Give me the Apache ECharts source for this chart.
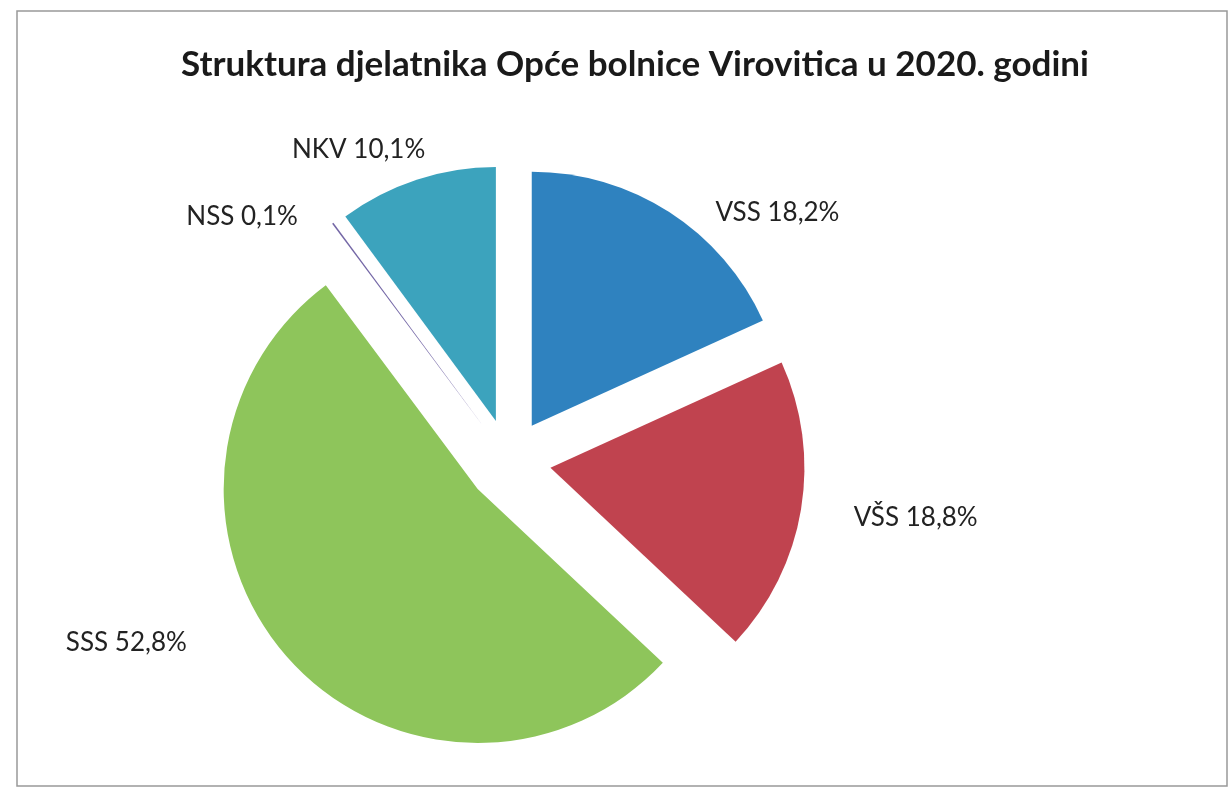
<!DOCTYPE html>
<html>
<head>
<meta charset="utf-8">
<script src="https://cdn.jsdelivr.net/npm/echarts@6/dist/echarts.min.js"></script>
<style>
  html, body { margin: 0; padding: 0; background: #fff; }
  #chart { width: 1232px; height: 795px; }
</style>
</head>
<body>
<div id="chart"></div>
<script>
// Categories and shares (percent), clockwise from 12 o'clock
const categories = ['VSS', 'VŠS', 'SSS', 'NSS', 'NKV'];
const shares = [18.2, 18.8, 52.8, 0.1, 10.1];
const colors = ['#2f82bf', '#c0434f', '#8ec55b', '#7467a6', '#3ca3bd'];
// label nudges (px) so the text sits where the original put it
const labelShift = [[15, 26], [8, 4], [-64, -36], [-2, 18], [33, -2]];

const chart = echarts.init(document.getElementById('chart'));

const pieData = categories.map((name, i) => ({
  name: name,
  value: shares[i],
  selected: true,
  itemStyle: { color: colors[i] }
}));

const option = {
  backgroundColor: '#fff',
  animation: false,
  title: {
    text: 'Struktura djelatnika Opće bolnice Virovitica u 2020. godini',
    left: 176,
    top: 42,
    textStyle: {
      fontFamily: 'Lato',
      fontSize: 35,
      fontWeight: 'bold',
      color: '#1a1a1a'
    }
  },
  graphic: [{
    type: 'rect',
    shape: { x: 17, y: 11, width: 1210, height: 775 },
    style: { fill: 'none', stroke: '#999', lineWidth: 1.5 },
    silent: true
  }],
  series: [{
    type: 'pie',
    center: [509, 461],
    radius: 254,
    startAngle: 90,
    clockwise: true,
    selectedMode: 'multiple',
    selectedOffset: 42,
    avoidLabelOverlap: false,
    minAngle: 0,
    data: pieData,
    label: {
      show: true,
      position: 'outside',
      fontFamily: 'Lato',
      fontSize: 26,
      color: '#222',
      formatter: (p) => p.name + ' ' + p.value.toFixed(1).replace('.', ',') + '%'
    },
    labelLine: { show: false, length: 30, length2: 10 },
    labelLayout: (p) => ({ dx: labelShift[p.dataIndex][0], dy: labelShift[p.dataIndex][1] }),
    emphasis: { disabled: true }
  }]
};

chart.setOption(option);
</script>
</body>
</html>
